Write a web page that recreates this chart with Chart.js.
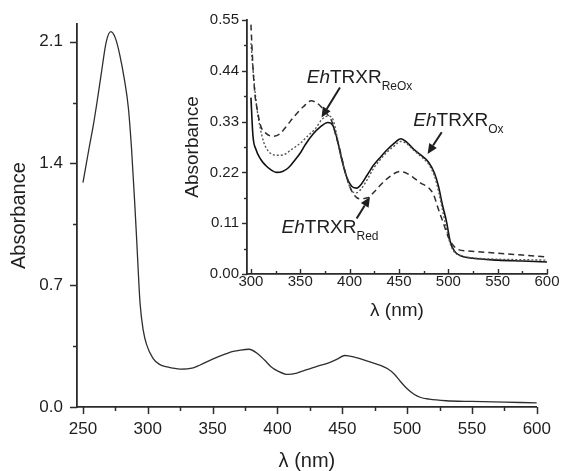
<!DOCTYPE html>
<html>
<head>
<meta charset="utf-8">
<script src="https://cdn.jsdelivr.net/npm/chart.js@4"></script>
<style>
  html, body { margin: 0; padding: 0; background: #fff; }
  #wrap { position: relative; width: 563px; height: 471px; overflow: hidden; }
  #main { position: absolute; left: 0; top: 0; }
  #inset { position: absolute; left: 170px; top: 0; }
</style>
</head>
<body>
<div id="wrap">
  <canvas id="main" width="563" height="471"></canvas>
  <canvas id="inset" width="393" height="320"></canvas>
</div>
<script>
// ---------- main spectrum ----------
const mainNm  = [250,255,258,261,264,268,271.5,275,278.5,282,285,287.5,290,291.5,294,296.5,299,304,309,315,325,335,340,350,360,365,370,378,385,390,395,400,408,415,420,430,440,446,452,460,470,480,485,490,495,500,505,510,517,530,550,575,600];
const mainAbs = [1.29,1.50,1.62,1.76,1.91,2.10,2.157,2.12,2.02,1.88,1.72,1.48,1.16,0.95,0.60,0.44,0.36,0.28,0.245,0.23,0.218,0.225,0.24,0.275,0.305,0.318,0.325,0.332,0.305,0.27,0.232,0.208,0.187,0.195,0.208,0.232,0.255,0.275,0.296,0.285,0.262,0.238,0.22,0.19,0.145,0.105,0.075,0.056,0.045,0.036,0.032,0.028,0.024];
const mainXTicks = [250,300,350,400,450,500,550,600];
const mainXMinor = [275,325,375,425,475,525,575];
const mainYTicks = [0,0.7,1.4,2.1];
const mainYMinor = [0.35,1.05,1.75];

// ---------- inset spectra ----------
const oxNm   = [300,302,305,310,315,320,326,332,338,345,350,355,363,370,378,383,387,392,397,402,407,412,418,424,430,437,445,452,458,465,472,480,486,490,494,498,502,506,512,525,550,575,600];
const oxAbs  = [0.382,0.30,0.27,0.248,0.235,0.226,0.220,0.222,0.230,0.248,0.262,0.280,0.303,0.318,0.328,0.322,0.295,0.248,0.210,0.190,0.186,0.195,0.215,0.235,0.250,0.267,0.283,0.293,0.285,0.270,0.258,0.242,0.218,0.190,0.150,0.115,0.070,0.050,0.040,0.034,0.030,0.028,0.026];
const reOxNm  = [300,303,306,309,313,318,326,333,340,351,358,365,372,378,383,387,392,397,402,407,412,418,424,430,437,445,452,458,465,472,480,486,490,494,498,502,506,512,525,550,575,600];
const reOxAbs = [0.50,0.42,0.36,0.32,0.285,0.265,0.257,0.258,0.268,0.285,0.300,0.314,0.335,0.342,0.335,0.300,0.250,0.210,0.180,0.176,0.185,0.205,0.228,0.245,0.262,0.277,0.287,0.282,0.268,0.255,0.238,0.212,0.180,0.140,0.100,0.065,0.048,0.040,0.035,0.032,0.031,0.030];
const redNm  = [300,302,304,306,310,315,322,329,336,343,353,361,367,372,377,382,386,390,395,400,405,410,418,425,431,440,451,458,464,472,480,485,490,495,500,505,510,520,550,575,600];
const redAbs = [0.54,0.45,0.39,0.36,0.32,0.305,0.298,0.303,0.32,0.339,0.362,0.375,0.370,0.360,0.347,0.33,0.30,0.27,0.225,0.19,0.17,0.163,0.165,0.178,0.192,0.21,0.222,0.218,0.21,0.197,0.187,0.172,0.14,0.11,0.08,0.062,0.053,0.05,0.045,0.041,0.037];
const insetXTicks = [300,350,400,450,500,550,600];
const insetXMinor = [325,375,425,475,525,575];
const insetYTicks = [0,0.11,0.22,0.33,0.44,0.55];
const insetYMinor = [0.055,0.165,0.275,0.385,0.495];

// annotation labels (anchored in inset data units)
const annoLabels = [
  { italic: 'Eh', text: 'TRXR', sub: 'ReOx', nm: 356.5, abs: 0.414 },
  { italic: 'Eh', text: 'TRXR', sub: 'Ox',   nm: 464.5, abs: 0.321 },
  { italic: 'Eh', text: 'TRXR', sub: 'Red',  nm: 331.0, abs: 0.088 }
];
const annoArrows = [
  { fromNm: 390.2, fromAbs: 0.404, toNm: 371.5, toAbs: 0.339 },
  { fromNm: 493.3, fromAbs: 0.307, toNm: 479.0, toAbs: 0.260 },
  { fromNm: 407.1, fromAbs: 0.120, toNm: 420.6, toAbs: 0.167 }
];

const FONT = "'Liberation Sans', Arial, Helvetica, sans-serif";
const INK = '#1e1e1e';

const pts = (xs, ys) => xs.map((x, i) => ({ x: x, y: ys[i] }));

// custom tick marks (major + minor)
const tickMarks = {
  id: 'tickMarks',
  afterDraw(chart, args, o) {
    const ctx = chart.ctx, xs = chart.scales.x, ys = chart.scales.y;
    ctx.save();
    ctx.strokeStyle = o.color; ctx.lineWidth = o.width; ctx.lineCap = 'butt';
    const vline = (v, len) => {
      const p = Math.round(xs.getPixelForValue(v)) + 0.5;
      ctx.beginPath(); ctx.moveTo(p, xs.top); ctx.lineTo(p, xs.top + o.xDir * len); ctx.stroke();
    };
    const hline = (v, len) => {
      const p = Math.round(ys.getPixelForValue(v)) + 0.5;
      ctx.beginPath(); ctx.moveTo(ys.right, p); ctx.lineTo(ys.right - len, p); ctx.stroke();
    };
    o.xMajor.forEach(v => vline(v, o.major));
    o.xMinor.forEach(v => vline(v, o.minor));
    o.yMajor.forEach(v => hline(v, o.major));
    o.yMinor.forEach(v => hline(v, o.minor));
    ctx.restore();
  }
};

// annotation labels + arrows on the inset
const annotations = {
  id: 'annotations',
  afterDatasetsDraw(chart, args, o) {
    if (!o.enabled) return;
    const ctx = chart.ctx, xs = chart.scales.x, ys = chart.scales.y;
    ctx.save();
    ctx.fillStyle = INK; ctx.strokeStyle = INK;
    ctx.textBaseline = 'alphabetic'; ctx.textAlign = 'left';
    annoLabels.forEach(l => {
      let x = xs.getPixelForValue(l.nm), y = ys.getPixelForValue(l.abs);
      ctx.font = 'italic 19px ' + FONT; ctx.fillText(l.italic, x, y);
      x += ctx.measureText(l.italic).width;
      ctx.font = '19px ' + FONT; ctx.fillText(l.text, x, y);
      x += ctx.measureText(l.text).width;
      ctx.font = '12px ' + FONT; ctx.fillText(l.sub, x, y + 7);
    });
    annoArrows.forEach(a => {
      const x1 = xs.getPixelForValue(a.fromNm), y1 = ys.getPixelForValue(a.fromAbs);
      const x2 = xs.getPixelForValue(a.toNm), y2 = ys.getPixelForValue(a.toAbs);
      const ang = Math.atan2(y2 - y1, x2 - x1), hl = 10, hw = 4.5;
      const bx = x2 - hl * Math.cos(ang), by = y2 - hl * Math.sin(ang);
      ctx.lineWidth = 2;
      ctx.beginPath(); ctx.moveTo(x1, y1); ctx.lineTo(bx, by); ctx.stroke();
      ctx.beginPath();
      ctx.moveTo(x2, y2);
      ctx.lineTo(bx + hw * Math.sin(ang), by - hw * Math.cos(ang));
      ctx.lineTo(bx - hw * Math.sin(ang), by + hw * Math.cos(ang));
      ctx.closePath(); ctx.fill();
    });
    ctx.restore();
  }
};

function axis(opts) {
  return {
    type: 'linear',
    min: opts.min, max: opts.max,
    afterBuildTicks: s => { s.ticks = opts.ticks.map(v => ({ value: v })); },
    afterFit: s => { if (opts.width) s.width = opts.width; if (opts.height) s.height = opts.height; },
    ticks: {
      autoSkip: false, maxRotation: 0, minRotation: 0,
      padding: opts.pad,
      color: INK,
      font: { family: FONT, size: opts.fs },
      callback: opts.fmt
    },
    grid: { display: false, drawTicks: false },
    border: { display: true, color: '#2b2b2b', width: 1.8 },
    title: {
      display: true, text: opts.title, color: INK,
      font: { family: FONT, size: opts.tfs, lineHeight: 1 },
      padding: { top: opts.tpad, bottom: 0 }
    }
  };
}

new Chart(document.getElementById('main'), {
  type: 'line',
  data: {
    datasets: [{
      data: pts(mainNm, mainAbs),
      borderColor: '#2e2e2e', borderWidth: 1.3,
      pointRadius: 0, fill: false, cubicInterpolationMode: 'monotone'
    }]
  },
  options: {
    responsive: false, animation: false, events: [],
    layout: { padding: { left: 0, right: 24, top: 15, bottom: 0 } },
    plugins: {
      legend: { display: false }, tooltip: { enabled: false },
      tickMarks: { color: '#2b2b2b', width: 1.5, major: 7, minor: 4, xDir: 1,
                   xMajor: mainXTicks, xMinor: mainXMinor, yMajor: mainYTicks, yMinor: mainYMinor },
      annotations: { enabled: false }
    },
    scales: {
      x: axis({ min: 245.4, max: 600, ticks: mainXTicks, pad: 12, fs: 17, height: 64,
                fmt: v => String(v), title: 'λ (nm)', tfs: 20, tpad: 0 }),
      y: axis({ min: 0, max: 2.2, ticks: mainYTicks, pad: 14, fs: 17, width: 77,
                fmt: v => v.toFixed(1), title: 'Absorbance', tfs: 20, tpad: 9 })
    }
  },
  plugins: [tickMarks, annotations]
});

new Chart(document.getElementById('inset'), {
  type: 'line',
  data: {
    datasets: [
      { data: pts(redNm, redAbs), borderColor: '#2e2e2e', borderWidth: 1.5, borderDash: [6, 4],
        pointRadius: 0, fill: false, cubicInterpolationMode: 'monotone' },
      { data: pts(reOxNm, reOxAbs), borderColor: '#555', borderWidth: 1.4, borderDash: [2, 2],
        pointRadius: 0, fill: false, cubicInterpolationMode: 'monotone' },
      { data: pts(oxNm, oxAbs), borderColor: '#111', borderWidth: 1.6,
        pointRadius: 0, fill: false, cubicInterpolationMode: 'monotone' }
    ]
  },
  options: {
    responsive: false, animation: false, events: [],
    layout: { padding: { left: 0, right: 16, top: 20, bottom: 0 } },
    plugins: {
      legend: { display: false }, tooltip: { enabled: false },
      tickMarks: { color: '#2b2b2b', width: 1.4, major: 5, minor: 3, xDir: -1,
                   xMajor: insetXTicks, xMinor: insetXMinor, yMajor: insetYTicks, yMinor: insetYMinor },
      annotations: { enabled: true }
    },
    scales: {
      x: axis({ min: 296, max: 600, ticks: insetXTicks, pad: -1, fs: 15, height: 46,
                fmt: v => String(v), title: 'λ (nm)', tfs: 19, tpad: 9 }),
      y: axis({ min: 0, max: 0.55, ticks: insetYTicks, pad: 8, fs: 15, width: 77,
                fmt: v => v.toFixed(2), title: 'Absorbance', tfs: 19, tpad: 13 })
    }
  },
  plugins: [tickMarks, annotations]
});
</script>
</body>
</html>
